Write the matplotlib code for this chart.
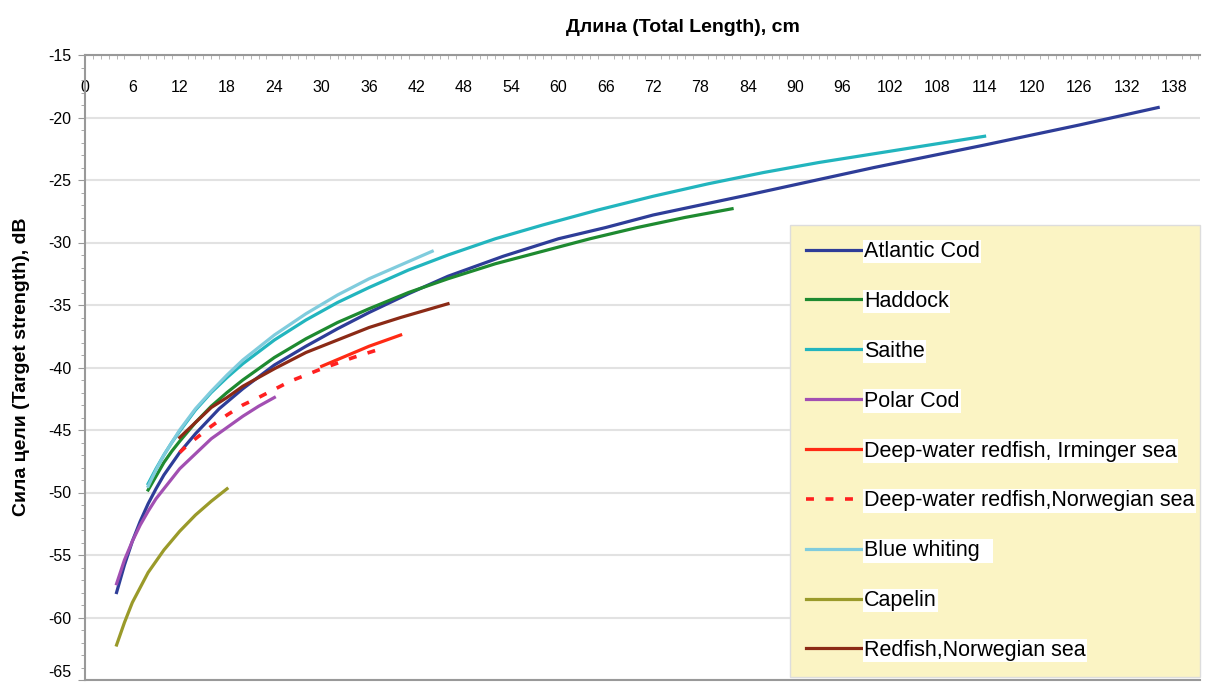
import matplotlib
matplotlib.use("Agg")
import matplotlib.pyplot as plt
from matplotlib.ticker import MultipleLocator

plt.rcParams["font.family"] = ["Liberation Sans", "DejaVu Sans"]
plt.rcParams["axes.unicode_minus"] = False

# Target strength (dB) vs total length (cm)
cod_len = [4, 5, 6, 7, 8, 9, 10, 12, 14, 17, 20, 24, 28, 32, 36, 41, 46, 53, 60,
           66, 72, 78, 84, 92, 100, 114, 126, 136]
cod_ts = [-58.0, -55.8, -53.9, -52.3, -50.9, -49.7, -48.6, -46.8, -45.3, -43.3,
          -41.7, -39.8, -38.3, -36.9, -35.6, -34.1, -32.7, -31.1, -29.7, -28.8,
          -27.8, -27.0, -26.2, -25.1, -24.0, -22.2, -20.6, -19.2]

haddock_len = [8, 9, 10, 11, 12, 14, 16, 18, 20, 24, 28, 32, 36, 41, 46, 52, 58,
               64, 70, 76, 82]
haddock_ts = [-49.8, -48.7, -47.6, -46.7, -45.9, -44.4, -43.1, -42.0, -41.0, -39.2,
              -37.7, -36.4, -35.3, -34.0, -32.9, -31.7, -30.7, -29.7, -28.8, -28.0,
              -27.3]

saithe_len = [8, 9, 10, 11, 12, 14, 16, 18, 20, 24, 28, 32, 36, 41, 46, 52, 58, 65,
              72, 79, 86, 93, 100, 107, 114]
saithe_ts = [-49.3, -48.1, -47.0, -46.0, -45.1, -43.4, -42.0, -40.8, -39.7, -37.8,
             -36.2, -34.8, -33.6, -32.2, -31.0, -29.7, -28.6, -27.4, -26.3, -25.3,
             -24.4, -23.6, -22.9, -22.2, -21.5]

polar_len = [4, 5, 6, 7, 8, 9, 10, 12, 14, 16, 18, 20, 22, 24]
polar_ts = [-57.3, -55.4, -53.9, -52.6, -51.5, -50.5, -49.7, -48.1, -46.9, -45.7,
            -44.8, -43.9, -43.1, -42.4]

irminger_len = [30, 33, 36, 40]
irminger_ts = [-39.9, -39.1, -38.3, -37.4]

dw_norw_len = [12, 13, 14, 16, 18, 20, 22, 26, 30, 34, 38]
dw_norw_ts = [-46.8, -46.2, -45.7, -44.7, -43.8, -43.0, -42.4, -41.1, -40.1, -39.2,
              -38.4]

whiting_len = [8, 9, 10, 11, 12, 14, 16, 18, 20, 24, 28, 32, 36, 40, 44]
whiting_ts = [-49.5, -48.2, -47.0, -46.0, -45.0, -43.3, -41.9, -40.6, -39.4, -37.4,
              -35.7, -34.2, -32.9, -31.8, -30.7]

capelin_len = [4, 5, 6, 7, 8, 9, 10, 12, 14, 16, 18]
capelin_ts = [-62.2, -60.4, -58.8, -57.6, -56.4, -55.5, -54.6, -53.1, -51.8, -50.7,
              -49.7]

redfish_len = [12, 13, 14, 16, 18, 20, 24, 28, 32, 36, 40, 46]
redfish_ts = [-45.6, -45.0, -44.4, -43.2, -42.4, -41.5, -40.1, -38.8, -37.8, -36.8,
              -36.0, -34.9]

fig = plt.figure(figsize=(12.09, 6.85), dpi=100)
ax = fig.add_axes([85 / 1209, 5 / 685, 1115 / 1209, 625 / 685])

lw = 2.3
ax.plot(cod_len, cod_ts, color="#2E3D98", lw=lw, label="Atlantic Cod")
ax.plot(haddock_len, haddock_ts, color="#1E8A30", lw=lw, label="Haddock")
ax.plot(saithe_len, saithe_ts, color="#22B5BE", lw=lw, label="Saithe")
ax.plot(polar_len, polar_ts, color="#A24FB2", lw=lw, label="Polar Cod")
ax.plot(irminger_len, irminger_ts, color="#FF2A14", lw=lw,
        label="Deep-water redfish, Irminger sea")
ax.plot(dw_norw_len, dw_norw_ts, color="#FF2020", lw=2.6, ls=(0, (2.2, 3.2)),
        label="Deep-water redfish,Norwegian sea")
ax.plot(whiting_len, whiting_ts, color="#80CCDD", lw=lw, label="Blue whiting  ")
ax.plot(capelin_len, capelin_ts, color="#9A9A2A", lw=lw, label="Capelin")
ax.plot(redfish_len, redfish_ts, color="#8B2A16", lw=lw, label="Redfish,Norwegian sea")

ax.set_xlim(0, 141.3)
ax.set_ylim(-65, -15)
ax.xaxis.set_major_locator(MultipleLocator(6))
ax.xaxis.set_minor_locator(MultipleLocator(1))
ax.yaxis.set_major_locator(MultipleLocator(5))
ax.yaxis.set_minor_locator(MultipleLocator(1))

ax.tick_params(axis="x", which="both", top=True, bottom=False, labeltop=True,
               labelbottom=False, direction="in", color="#AAAAAA")
ax.tick_params(axis="x", which="major", length=0, pad=-29, labelsize=11.5)
ax.tick_params(axis="x", which="minor", length=3)
ax.tick_params(axis="y", which="both", direction="out", color="#999999")
ax.tick_params(axis="y", which="major", length=5, labelsize=11.5, pad=5)
ax.tick_params(axis="y", which="minor", length=3)

ax.grid(axis="y", color="#E2E2E2", lw=1.5)
ax.set_axisbelow(True)
for side in ["top", "left", "bottom"]:
    ax.spines[side].set_color("#999999")
    ax.spines[side].set_linewidth(1.5)
ax.spines["right"].set_visible(False)

fig.text(683 / 1209, 1 - 27 / 685, "Длина (Total Length), cm", ha="center",
         va="center", fontsize=14, fontweight="bold")
fig.text(22 / 1209, 1 - 367 / 685, "Сила цели (Target strength), dB", ha="center",
         va="center", rotation=90, fontsize=14, fontweight="bold")

leg = ax.legend(loc="upper left", bbox_to_anchor=(0.632, 0.0, 0.368, 0.728),
                mode="expand", fontsize=15.5, labelspacing=1.34, handlelength=2.6,
                handletextpad=0.1, borderpad=0.75, borderaxespad=0, fancybox=False,
                framealpha=1)
leg.get_frame().set_facecolor("#FBF4C4")
leg.get_frame().set_edgecolor("#DDDDDD")
for t in leg.get_texts():
    t.set_bbox(dict(facecolor="white", edgecolor="none", pad=1))

# keep the bottom "-65" label inside the picture
fig.canvas.draw()
for tick in ax.yaxis.get_major_ticks():
    if abs(tick.get_loc() + 65) < 1e-6:
        tick.label1.set_va("bottom")

fig.savefig("out.png", dpi=100)
